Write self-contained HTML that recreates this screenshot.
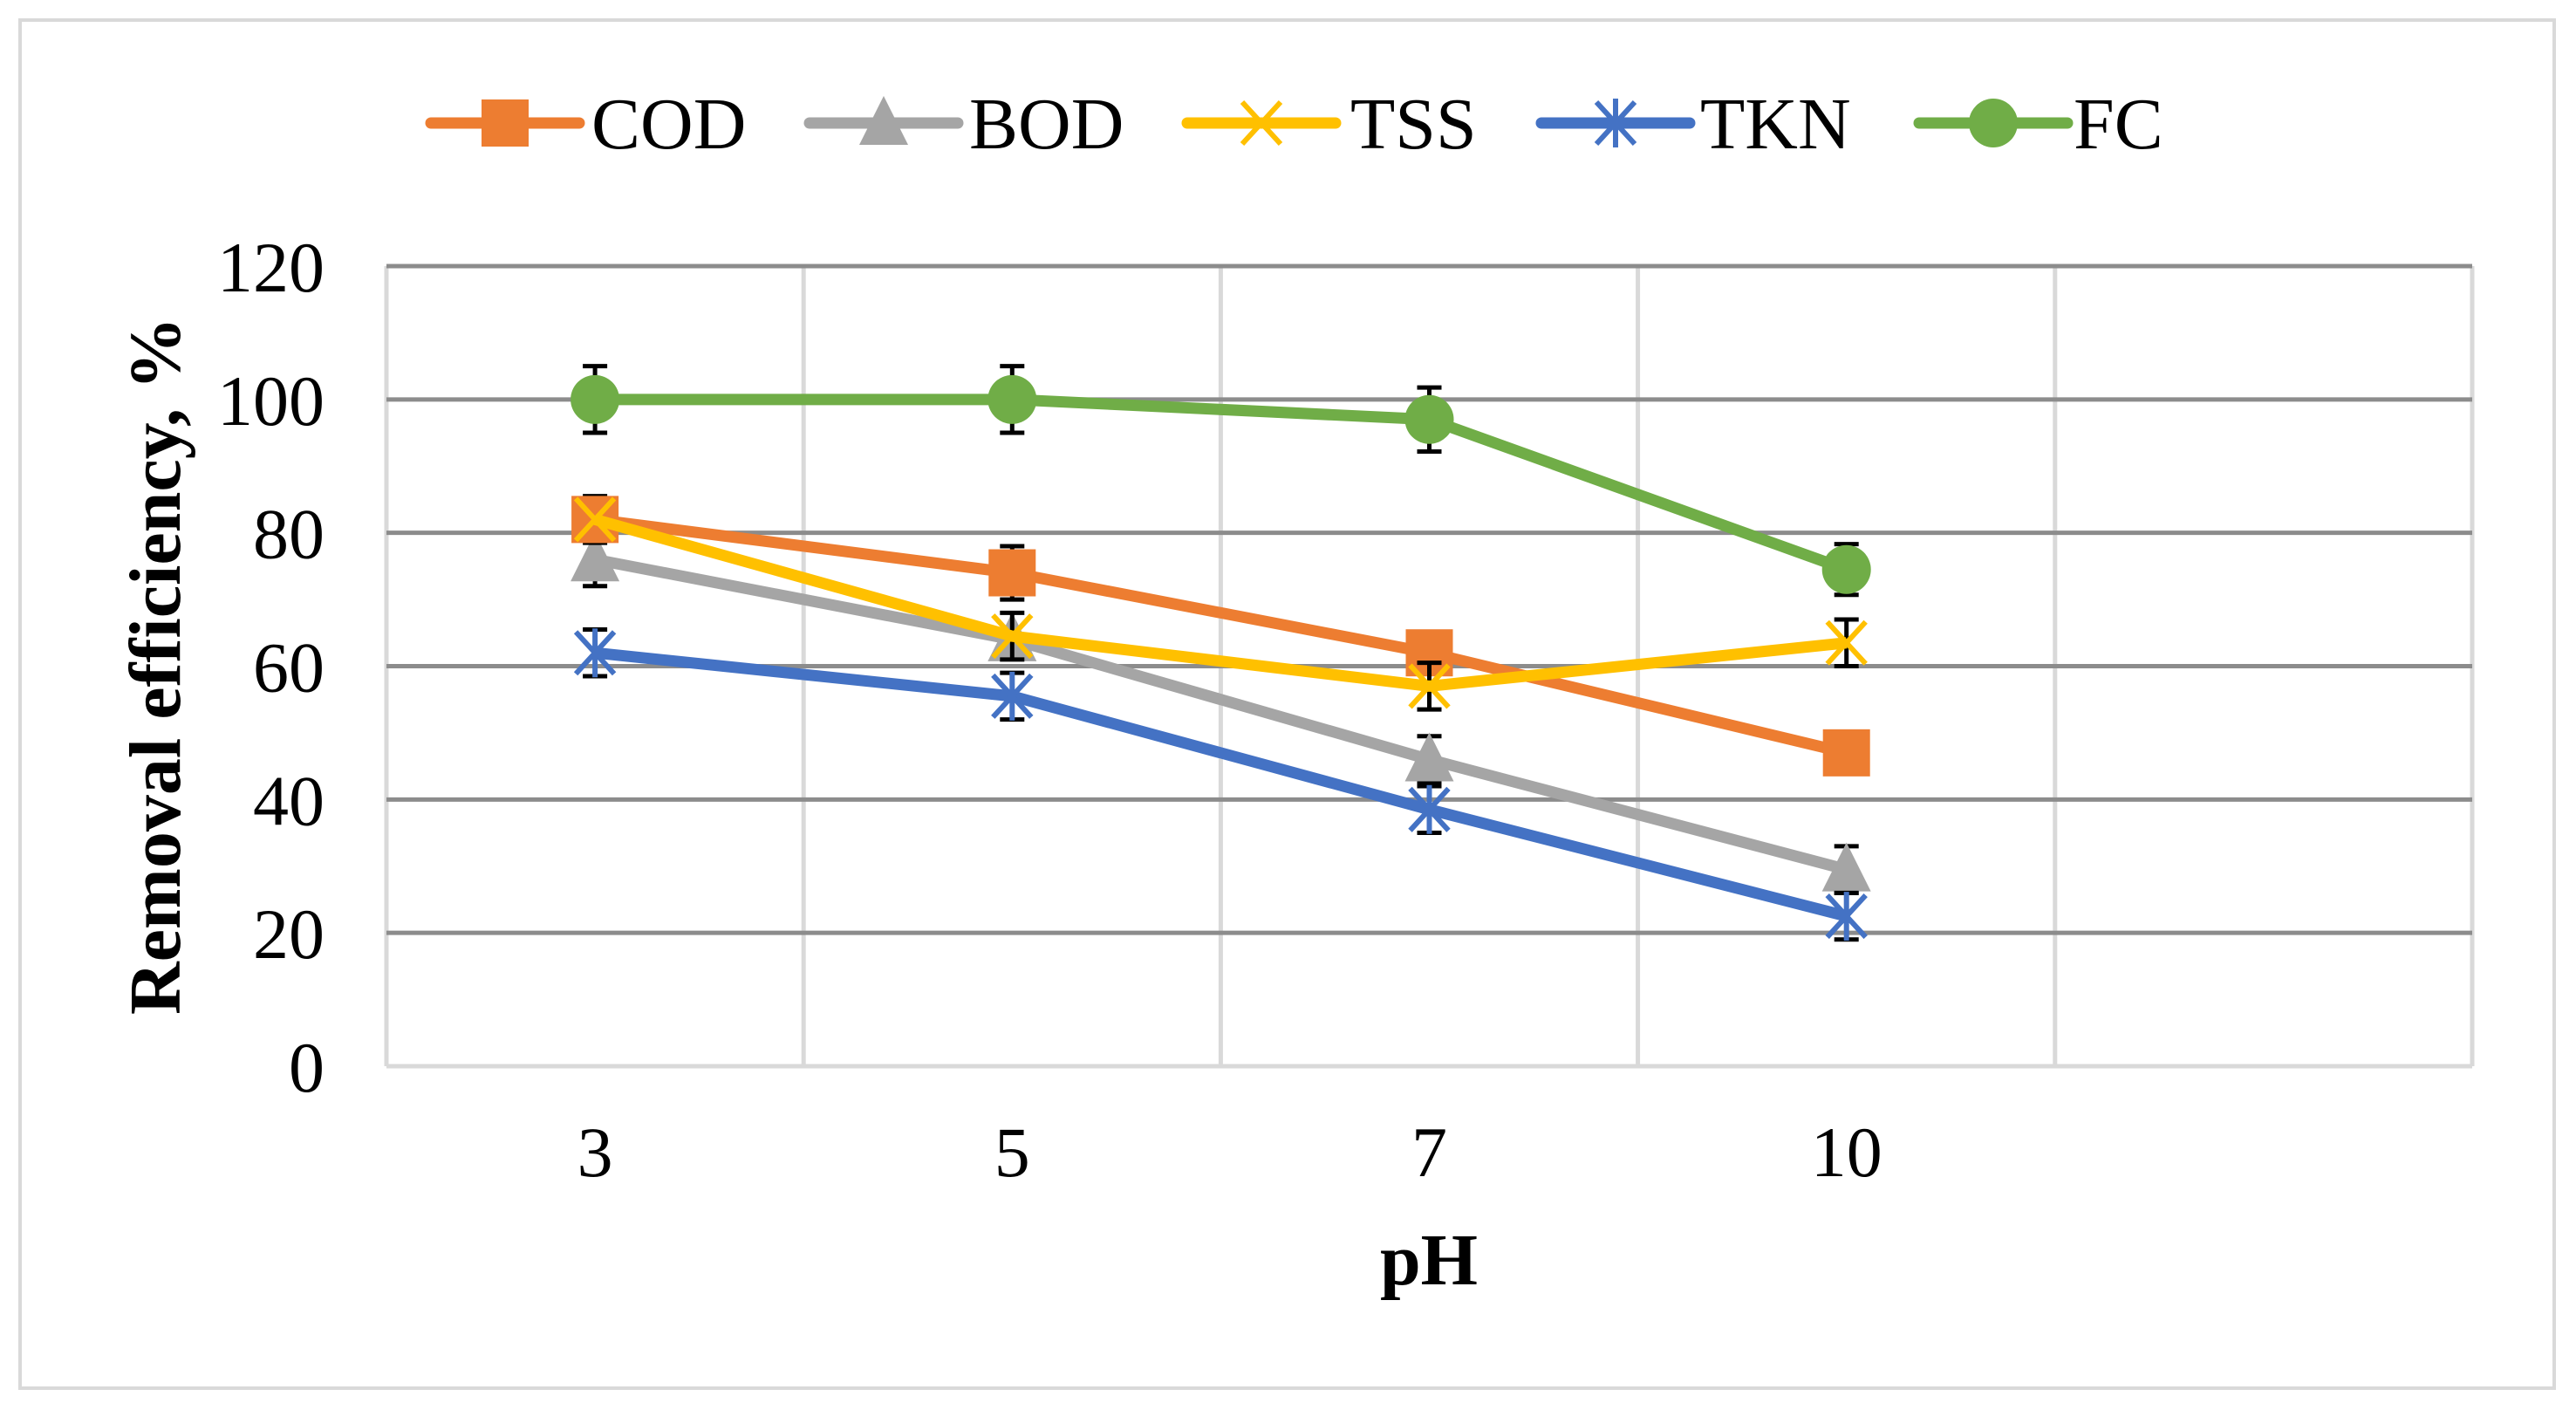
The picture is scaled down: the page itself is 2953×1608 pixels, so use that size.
<!DOCTYPE html>
<html><head><meta charset="utf-8"><style>
html,body{margin:0;padding:0;background:#fff}
svg{display:block}
text{font-family:"Liberation Serif",serif;fill:#000}
</style></head><body>
<svg id="chart" width="2953" height="1608" viewBox="0 0 2953 1608" xmlns="http://www.w3.org/2000/svg">
<rect x="23" y="23" width="2905" height="1568" fill="#fff" stroke="#d9d9d9" stroke-width="4"/>
<g id="grid"></g><g id="series"></g><g id="axes"></g><g id="legend"></g>
<text transform="translate(206,763) rotate(-90)" text-anchor="middle" font-size="84" font-weight="bold">Removal efficiency, %</text>
<text x="1638" y="1472" text-anchor="middle" font-size="84" font-weight="bold">pH</text>
</svg>
<script>
const categories=["3","5","7","10"];
const yTicks=[0,20,40,60,80,100,120];
const seriesNames=["COD","BOD","TSS","TKN","FC"];
const codVals=[82,74,62,47];
const bodVals=[76,64,46,29.5];
const tssVals=[82,64.5,57,63.5];
const tknVals=[62,55.5,38.5,22.5];
const fcVals=[100,100,97,74.5];
const codErr=[3.5,4,0,0];
const bodErr=[4,0,3.5,3.5];
const tssErr=[0,3.5,3.5,3.5];
const tknErr=[3.5,3.5,3.5,3.5];
const fcErr=[5,5,4.8,3.8];

const NS="http://www.w3.org/2000/svg";
const L=443,R=2834,T=305,B=1222,nSlots=5;
const slot=(R-L)/nSlots;
const xPos=i=>L+slot*(i+0.5);
const yPos=v=>B-(v/120)*(B-T);
function mk(tag,attrs,parent){const e=document.createElementNS(NS,tag);for(const k in attrs)e.setAttribute(k,attrs[k]);parent.appendChild(e);return e;}
const grid=document.getElementById('grid'),axes=document.getElementById('axes'),ser=document.getElementById('series'),leg=document.getElementById('legend');
for(let i=0;i<=nSlots;i++){const x=L+slot*i;const l=mk('line',{x1:x,x2:x,y1:T,y2:B,stroke:'#d9d9d9','stroke-width':5},grid);

}
yTicks.forEach(v=>{const y=yPos(v);const l=mk('line',{x1:L,x2:R,y1:y,y2:y,stroke:v===0?'#d9d9d9':'#8c8c8c','stroke-width':5},grid);


const t=mk('text',{x:372,y:y+29,'text-anchor':'end','font-size':82},axes);t.textContent=v;

});
categories.forEach((c,i)=>{const t=mk('text',{x:xPos(i),y:1348,'text-anchor':'middle','font-size':82},axes);t.textContent=c;

});
const colors={COD:'#ed7d31',BOD:'#a5a5a5',TSS:'#ffc000',TKN:'#4472c4',FC:'#70ad47'};
function marker(name,x,y,g){const c=colors[name];let m;
if(name==='COD')m=mk('rect',{x:x-27,y:y-27,width:54,height:54,fill:c},g);
else if(name==='BOD')m=mk('path',{d:`M${x},${y-31}L${x+28},${y+25}L${x-28},${y+25}Z`,fill:c},g);
else if(name==='FC')m=mk('circle',{cx:x,cy:y,r:28,fill:c},g);
else if(name==='TSS')m=mk('path',{d:`M${x-22},${y-24}L${x+22},${y+24}M${x+22},${y-24}L${x-22},${y+24}`,stroke:c,'stroke-width':6,fill:'none'},g);
else m=mk('path',{d:`M${x-22},${y-24}L${x+22},${y+24}M${x+22},${y-24}L${x-22},${y+24}M${x},${y-28}L${x},${y+28}`,stroke:c,'stroke-width':6,fill:'none'},g);
return m;}
const data={COD:[codVals,codErr],BOD:[bodVals,bodErr],TSS:[tssVals,tssErr],TKN:[tknVals,tknErr],FC:[fcVals,fcErr]};
const order=["FC","BOD","TKN","COD","TSS"];
order.forEach(name=>{const [vals,errs]=data[name];const g=mk('g',{},ser);


errs.forEach((e,i)=>{if(!e)return;const x=xPos(i),y1=yPos(vals[i]-e),y2=yPos(vals[i]+e);
const eb=mk('path',{d:`M${x},${y1}L${x},${y2}M${x-14},${y1}L${x+14},${y1}M${x-14},${y2}L${x+14},${y2}`,stroke:'#000','stroke-width':5,fill:'none'},g);

});
const pl=mk('polyline',{points:vals.map((v,i)=>xPos(i)+','+yPos(v)).join(' '),fill:'none',stroke:colors[name],'stroke-width':13,'stroke-linejoin':'round'},g);


vals.forEach((v,i)=>{const m=marker(name,xPos(i),yPos(v),g);

});});
const legX=[[494,678],[928,1111],[1361,1548],[1767,1949],[2200,2377]];
seriesNames.forEach((n,i)=>{const g=mk('g',{},leg);


const [x0,tx]=legX[i];const y=141;
mk('line',{x1:x0,x2:x0+170,y1:y,y2:y,stroke:colors[n],'stroke-width':13,'stroke-linecap':'round'},g);
marker(n,x0+85,y,g);
const t=mk('text',{x:tx,y:y+29,'font-size':84},g);t.textContent=n;});
</script>
</body></html>
